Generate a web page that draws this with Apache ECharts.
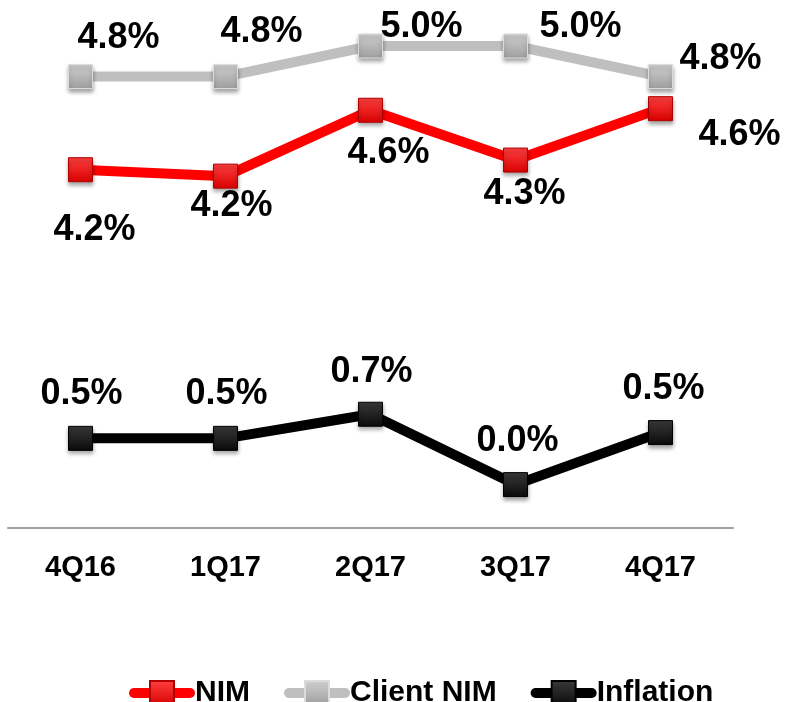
<!DOCTYPE html>
<html>
<head>
<meta charset="utf-8">
<style>
    html, body { margin: 0; padding: 0; background: #fff; }
    .chart { width: 786px; height: 702px; }
</style>
<script src="https://cdn.jsdelivr.net/npm/echarts@6/dist/echarts.min.js"></script>
</head>
<body>
<div class="chart"></div>
<script>
// data
const categories = ["4Q16", "1Q17", "2Q17", "3Q17", "4Q17"];
const nim = [4.23, 4.19, 4.60, 4.29, 4.61];
const client_nim = [4.81, 4.81, 5.00, 5.00, 4.81];
const inflation = [0.48, 0.48, 0.73, 0.00, 0.54];

// label offsets (px from marker centre)
const nim_offsets = [[14, 60], [6, 30], [18, 43], [9, 34], [79, 26]];
const client_offsets = [[38, -38], [36, -44], [51, -19], [65, -19], [60, -17]];
const inflation_offsets = [[1, -44], [1, -44], [1, -42], [2, -44], [3, -43]];

(function () {
    const my_echart = echarts.init(document.querySelector(".chart")); //实例化
    const font = "Liberation Sans, Arial, sans-serif";

    function marker(top, bottom, border) {
        return {
            color: new echarts.graphic.LinearGradient(0, 0, 0, 1, [
                { offset: 0, color: top },
                { offset: 1, color: bottom }
            ]),
            borderColor: border,
            borderWidth: 1,
            shadowColor: "rgba(0,0,0,0.35)",
            shadowBlur: 4,
            shadowOffsetY: 3
        };
    }

    function points(values, offsets) {
        return values.map(function (v, i) {
            return {
                value: v,
                label: { offset: offsets[i] }
            };
        });
    }

    const label = {
        show: true,
        position: "inside",
        fontFamily: font,
        fontWeight: "bold",
        fontSize: 36,
        color: "#000",
        formatter: function (p) { return p.value.toFixed(1) + "%"; }
    };

    let option = {
        animation: false,
        grid: { left: 8, right: 53, top: 46, bottom: 174 },
        legend: {
            left: 124,
            top: 673,
            itemWidth: 56,
            itemHeight: 30,
            itemGap: 34,
            textStyle: { fontFamily: font, fontWeight: "bold", fontSize: 30, color: "#000" },
            lineStyle: { width: 10, cap: "round" },
            data: ["NIM", "Client NIM", "Inflation"]
        },
        xAxis: {
            type: "category",
            data: categories,
            axisLine: { onZero: false, lineStyle: { color: "#a0a0a0", width: 2 } },
            axisTick: { show: false },
            axisLabel: {
                margin: 25,
                fontFamily: font,
                fontWeight: "bold",
                fontSize: 29,
                color: "#000"
            }
        },
        yAxis: [
            { type: "value", min: 2, max: 5, show: false },
            { type: "value", min: -0.45, max: 4.55, show: false }
        ],
        series: [
            {
                name: "NIM",
                type: "line",
                symbol: "rect",
                symbolSize: 24,
                lineStyle: { color: "#ff0000", width: 10 },
                itemStyle: marker("#ff4040", "#d80000", "#b00000"),
                label: label,
                data: points(nim, nim_offsets)
            },
            {
                name: "Client NIM",
                type: "line",
                symbol: "rect",
                symbolSize: 24,
                lineStyle: { color: "#bfbfbf", width: 10 },
                itemStyle: marker("#d0d0d0", "#9e9e9e", "#dcdcdc"),
                label: label,
                data: points(client_nim, client_offsets)
            },
            {
                name: "Inflation",
                type: "line",
                yAxisIndex: 1,
                symbol: "rect",
                symbolSize: 24,
                lineStyle: { color: "#000", width: 10 },
                itemStyle: marker("#3a3a3a", "#0a0a0a", "#000"),
                label: label,
                data: points(inflation, inflation_offsets)
            }
        ]
    };
    my_echart.setOption(option);
    window.addEventListener("resize", function () {
        my_echart.resize();
    });
})();
</script>
</body>
</html>
